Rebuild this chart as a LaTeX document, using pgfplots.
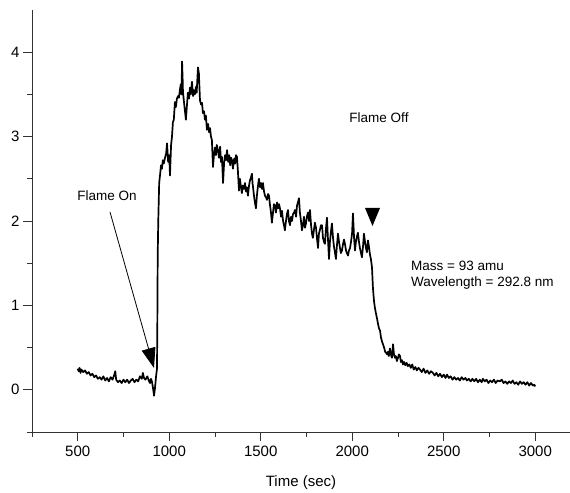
\documentclass[border=0pt]{standalone}
\usepackage{pgfplots}
\pgfplotsset{compat=1.18}
\usepackage{fontspec}
\setmainfont{Liberation Sans}
\usetikzlibrary{arrows.meta}
\begin{document}
\begin{tikzpicture}
\begin{axis}[
  scale only axis,
  width=538bp, height=422bp,
  xmin=250, xmax=3190, ymin=-0.5, ymax=4.5,
  axis lines=left, axis line style={-, line width=0.9bp, black!80},
  xtick={500,1000,...,3000}, ytick={0,1,2,3,4},
  minor xtick={250,750,1250,1750,2250,2750},
  minor ytick={-0.5,0.5,1.5,2.5,3.5},
  tick align=outside,
  major tick length=9bp, minor tick length=4.5bp,
  every tick/.style={line width=0.9bp, black!80},
  tick label style={font=\fontsize{15bp}{18bp}\selectfont},
  x tick label style={yshift=-2bp},
  /pgf/number format/assume math mode=true,
  /pgf/number format/1000 sep={},
  xlabel={Time (sec)},
  xlabel style={yshift=-12bp},
  label style={font=\fontsize{15bp}{18bp}\selectfont},
  clip=false,
]
\addplot[black, line width=1.7bp, line join=round] coordinates {
(500,0.25) (505,0.22) (510,0.26) (515,0.20) (520,0.24) (530,0.21) (540,0.23) (550,0.19) (560,0.21) (570,0.17)
(580,0.19) (590,0.15) (600,0.17) (610,0.13) (620,0.15) (630,0.12) (640,0.16) (650,0.11) (660,0.14) (670,0.10)
(680,0.15) (690,0.12) (700,0.18) (705,0.22) (710,0.12) (720,0.09) (730,0.11) (740,0.08) (750,0.12) (760,0.09)
(770,0.12) (780,0.08) (790,0.11) (800,0.13) (810,0.09) (820,0.12) (830,0.10) (840,0.16) (850,0.13) (856,0.20)
(862,0.14) (870,0.12) (880,0.16) (890,0.10) (895,0.08) (900,0.13) (905,0.10) (910,0.04) (917,-0.07) (922,0.02)
(928,0.16) (933,0.25) (935,0.8) (937,1.6) (940,2.0) (945,2.45) (950,2.55) (955,2.66) (960,2.62) (965,2.72)
(970,2.68) (977,2.75) (983,2.80) (988,2.92) (994,2.70) (1000,2.78) (1004,2.54) (1010,2.9) (1015,3.0) (1020,3.17)
(1025,3.2) (1031,3.41) (1036,3.35) (1042,3.45) (1048,3.48) (1053,3.46) (1058,3.55) (1063,3.62) (1067,3.5) (1070,3.89)
(1073,3.7) (1075,3.53) (1080,3.42) (1086,3.3) (1091,3.2) (1096,3.35) (1102,3.52) (1108,3.45) (1113,3.58) (1118,3.5)
(1124,3.65) (1130,3.48) (1135,3.55) (1140,3.5) (1146,3.59) (1150,3.52) (1154,3.7) (1157,3.82) (1162,3.75) (1168,3.43)
(1174,3.38) (1179,3.4) (1184,3.28) (1190,3.3) (1195,3.2) (1200,3.25) (1206,3.08) (1212,3.15) (1218,3.05) (1223,3.1)
(1228,3.0) (1233,2.96) (1239,2.64) (1245,2.8) (1250,2.87) (1255,2.78) (1260,2.9) (1266,2.84) (1272,2.75) (1278,2.88)
(1283,2.7) (1288,2.76) (1294,2.45) (1300,2.7) (1305,2.78) (1310,2.72) (1316,2.84) (1322,2.7) (1328,2.78) (1333,2.66)
(1338,2.75) (1343,2.72) (1348,2.62) (1355,2.74) (1360,2.68) (1365,2.78) (1370,2.76) (1375,2.6) (1381,2.36) (1386,2.5)
(1392,2.4) (1397,2.33) (1402,2.42) (1408,2.38) (1414,2.45) (1419,2.35) (1424,2.4) (1430,2.30) (1436,2.42) (1441,2.48)
(1447,2.52) (1452,2.56) (1455,2.45) (1458,2.4) (1463,2.3) (1468,2.22) (1474,2.15) (1479,2.3) (1485,2.42) (1490,2.5)
(1496,2.4) (1501,2.45) (1507,2.38) (1512,2.45) (1518,2.35) (1523,2.3) (1529,2.28) (1534,2.25) (1540,2.32) (1545,2.3)
(1550,2.2) (1556,2.1) (1561,1.98) (1567,2.1) (1572,2.2) (1578,2.18) (1583,2.1) (1589,2.22) (1594,2.15) (1600,2.2)
(1605,2.15) (1611,2.05) (1616,2.12) (1622,2.0) (1627,1.95) (1632,1.89) (1638,2.0) (1643,2.08) (1649,2.13) (1654,2.0)
(1660,1.95) (1665,2.05) (1671,2.0) (1676,2.08) (1682,2.1) (1687,2.13) (1693,2.05) (1698,2.18) (1703,2.22) (1709,2.27)
(1714,2.1) (1720,2.0) (1725,1.89) (1731,1.95) (1736,2.05) (1742,1.92) (1747,1.97) (1752,2.05) (1758,2.1) (1764,2.0)
(1769,2.13) (1775,1.95) (1780,1.85) (1785,1.8) (1791,1.9) (1796,1.98) (1802,1.92) (1807,1.8) (1813,1.68) (1818,1.85)
(1824,1.9) (1829,1.95) (1835,1.95) (1840,1.8) (1846,1.75) (1851,1.73) (1856,1.9) (1862,2.04) (1867,1.8) (1873,1.55)
(1878,1.75) (1884,1.88) (1889,1.97) (1895,1.8) (1900,1.7) (1906,1.62) (1911,1.55) (1916,1.7) (1922,1.85) (1928,1.75)
(1933,1.68) (1938,1.62) (1944,1.65) (1949,1.72) (1955,1.78) (1960,1.73) (1966,1.65) (1971,1.62) (1977,1.59) (1982,1.65)
(1988,1.68) (1993,1.75) (1999,1.85) (2004,2.09) (2010,1.8) (2015,1.65) (2020,1.75) (2026,1.82) (2031,1.86) (2037,1.75)
(2042,1.68) (2048,1.62) (2053,1.57) (2059,1.7) (2064,1.85) (2070,1.75) (2075,1.68) (2080,1.63) (2086,1.77) (2091,1.7)
(2097,1.6) (2102,1.55) (2108,1.45) (2113,1.21) (2119,1.05) (2124,0.97) (2130,0.9) (2135,0.85) (2141,0.78) (2146,0.73)
(2152,0.70) (2157,0.62) (2163,0.57) (2168,0.54) (2174,0.5) (2180,0.45) (2185,0.44) (2190,0.42) (2195,0.45) (2200,0.4)
(2206,0.49) (2211,0.42) (2217,0.38) (2223,0.54) (2228,0.42) (2233,0.38) (2238,0.4) (2244,0.34) (2250,0.38) (2255,0.42)
(2261,0.40) (2266,0.33) (2272,0.35) (2277,0.3) (2283,0.33) (2290,0.29) (2297,0.32) (2304,0.28)
(2312,0.3) (2320,0.26) (2328,0.3) (2336,0.24) (2345,0.27) (2353,0.23) (2362,0.26) (2370,0.24) (2380,0.21) (2390,0.25)
(2400,0.2) (2410,0.23) (2420,0.19) (2430,0.22) (2441,0.2) (2450,0.17) (2460,0.2) (2470,0.16) (2480,0.19) (2490,0.15)
(2500,0.18) (2510,0.14) (2518,0.18) (2528,0.14) (2538,0.16) (2548,0.12) (2558,0.15) (2568,0.12) (2578,0.14) (2588,0.11)
(2598,0.15) (2608,0.12) (2618,0.14) (2627,0.11) (2637,0.13) (2647,0.10) (2657,0.13) (2667,0.1) (2677,0.13) (2687,0.09)
(2697,0.12) (2707,0.09) (2714,0.13) (2724,0.1) (2734,0.12) (2744,0.08) (2754,0.11) (2764,0.09) (2774,0.12) (2784,0.08)
(2794,0.11) (2807,0.1) (2817,0.12) (2827,0.08) (2837,0.1) (2847,0.07) (2857,0.1) (2867,0.08) (2877,0.11) (2887,0.07)
(2897,0.09) (2907,0.06) (2917,0.1) (2927,0.07) (2937,0.09) (2947,0.06) (2957,0.09) (2967,0.05) (2977,0.08) (2987,0.05)
(2995,0.06) (3000,0.04)
};
\end{axis}
% annotations (bp relative to axis origin)
\node[font=\fontsize{13.5bp}{16bp}\selectfont] at (75bp,236bp) {Flame On};
\draw[line width=0.8bp, -{Triangle[length=20bp,width=14bp]}] (78bp,220bp) -- (122bp,64bp);
\node[font=\fontsize{13.5bp}{16bp}\selectfont] at (347bp,314bp) {Flame Off};
\fill (333bp,224bp) -- (348bp,224bp) -- (340.5bp,206bp) -- cycle;
\node[font=\fontsize{13.5bp}{16bp}\selectfont, anchor=west, align=left, inner sep=0pt] at (379bp,156.5bp) {Mass = 93 amu\\Wavelength = 292.8 nm};
\pgfresetboundingbox
\path (-32bp,-61bp) rectangle (538bp,432bp);
\end{tikzpicture}
\end{document}
